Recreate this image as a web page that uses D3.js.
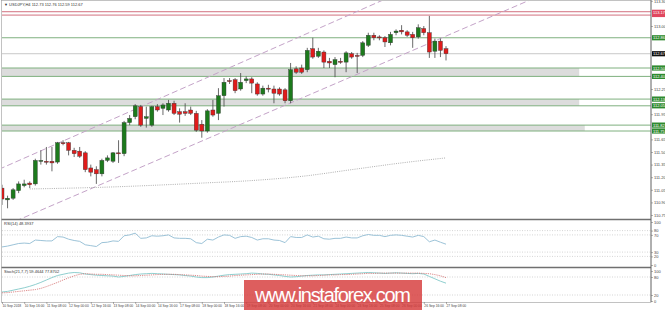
<!DOCTYPE html>
<html>
<head>
<meta charset="utf-8">
<script src="https://cdn.jsdelivr.net/npm/d3@7"></script>
<style>
  body { margin: 0; background: #fff; }
  svg { display: block; font-family: "Liberation Sans", Arial, sans-serif; }
</style>
</head>
<body>
<svg id="chart" width="665" height="310"></svg>
<script>
// USDJPY H4 candles, 10 Sep 2018 00:00 .. 27 Sep 2018 08:00
const opens = [111.07,110.93,110.95,111.04,111.10,111.13,111.12,111.39,111.39,111.39,
  111.38,111.61,111.61,111.52,111.51,111.49,111.31,111.29,111.24,111.40,
  111.39,111.49,111.48,111.85,111.92,112.04,111.90,111.82,112.04,112.02,
  112.00,112.08,111.98,111.98,112.00,111.96,111.83,111.75,112.00,111.96,
  112.17,112.35,112.36,112.25,112.35,112.37,112.31,112.19,112.26,112.25,
  112.25,112.24,112.11,112.49,112.50,112.48,112.73,112.64,112.69,112.58,
  112.54,112.58,112.57,112.67,112.65,112.65,112.77,112.89,112.87,112.86,
  112.80,112.92,112.95,112.93,112.90,112.87,112.97,112.92,112.70,112.82,112.73];
const highs = [111.11,110.98,111.07,111.15,111.17,111.15,111.42,111.52,111.56,111.56,
  111.62,111.64,111.62,111.55,111.56,111.51,111.35,111.33,111.42,111.46,
  111.50,111.64,111.87,111.94,112.07,112.06,112.04,112.05,112.07,112.08,
  112.12,112.11,112.02,112.08,112.04,111.99,111.88,112.01,112.12,112.26,
  112.38,112.38,112.38,112.44,112.40,112.39,112.33,112.29,112.30,112.29,
  112.27,112.26,112.56,112.52,112.54,112.74,112.86,112.74,112.71,112.62,
  112.63,112.62,112.70,112.69,112.68,112.82,112.92,112.92,112.89,112.88,
  112.93,112.96,113.01,112.95,112.93,113.02,113.00,113.12,112.85,112.85,112.76];
const lows = [110.87,110.83,110.93,111.01,111.08,111.07,111.10,111.35,111.35,111.27,
  111.36,111.58,111.46,111.44,111.43,111.26,111.21,111.12,111.21,111.38,
  111.37,111.37,111.45,111.82,111.89,111.80,111.79,111.80,111.98,111.94,
  111.98,111.94,111.85,111.93,111.94,111.74,111.67,111.73,111.92,111.88,
  112.04,112.31,112.20,112.23,112.32,112.20,112.17,112.17,112.21,112.08,
  112.17,112.08,112.08,112.43,112.43,112.45,112.61,112.62,112.50,112.50,
  112.39,112.55,112.45,112.61,112.44,112.63,112.75,112.83,112.83,112.75,
  112.77,112.89,112.90,112.87,112.74,112.85,112.89,112.62,112.62,112.63,112.59];
const closes = [110.94,110.95,111.05,111.12,111.12,111.11,111.40,111.40,111.38,111.37,
  111.61,111.60,111.52,111.48,111.45,111.29,111.26,111.24,111.40,111.43,
  111.49,111.48,111.85,111.90,112.05,111.82,111.92,112.04,112.00,112.06,
  112.08,111.96,111.95,111.96,111.96,111.76,111.75,111.99,111.94,112.17,
  112.33,112.34,112.23,112.33,112.37,112.32,112.19,112.26,112.25,112.20,
  112.19,112.11,112.48,112.45,112.45,112.71,112.63,112.70,112.57,112.56,
  112.60,112.57,112.68,112.63,112.64,112.80,112.89,112.86,112.86,112.81,
  112.90,112.94,112.93,112.89,112.86,112.98,112.92,112.69,112.82,112.71,112.67];

// indicators, one value per candle
const rsiValues = [42,44,47,50,51,50,58,57,56,56,
  66,65,60,57,55,47,45,43,52,53,
  56,55,68,70,74,62,63,68,67,68,
  70,63,62,62,61,52,50,60,58,65,
  70,69,62,66,67,64,58,61,61,58,
  57,52,66,64,64,70,65,67,61,60,
  62,62,65,63,63,68,71,69,69,66,
  69,70,69,67,65,69,66,54,58,53,48.39];
const stochMain = [30,32,36,40,44,49,55,62,70,78,
  85,89,93,95,94,90,88,86,85,84,
  83,80,82,85,88,90,91,92,91,90,
  89,88,87,85,83,80,78,78,80,83,
  86,88,89,90,91,93,92,90,89,87,
  85,82,80,81,83,85,86,87,87,88,
  89,90,91,92,93,94,95,94,93,92,
  93,94,93,92,91,92,90,82,74,66,59.47];
const stochSignal = [27,28,30,32,34,36,38,42,48,55,
  62,70,77,84,89,91,90,89,89,88,
  87,86,85,84,84,85,86,87,88,89,
  89,89,88,87,86,85,83,82,81,81,
  82,83,85,86,87,88,89,90,90,89,
  88,87,86,85,84,84,84,85,86,87,
  87,88,88,89,90,91,92,92,93,93,
  93,93,93,93,93,93,92,91,88,84,77.87];

// slow moving average (dotted), read at a few bars
const maBars = [5, 18, 36, 45, 54, 63, 72, 80];
const maValues = [111.06, 111.08, 111.13, 111.16, 111.21, 111.29, 111.37, 111.43];

// drawn objects: channel lines [bar, price]
const upperChannel = [[0, 111.31], [68, 113.29]];
const lowerChannel = [[5, 110.75], [80, 112.88]];
const redLevels = [113.17, 113.13];
const greenLevels = [112.86];
const zones = [[112.50, 112.40], [112.13, 112.05], [111.82, 111.75]];
const zoneEnds = [104, 104, 105];
const lastPrice = 112.67;

const priceTicks = [110.75,110.90,111.05,111.20,111.35,111.50,111.65,111.80,111.95,
  112.10,112.25,112.40,112.55,112.70,112.85,113.00,113.15,113.30];
const dateLabels = ['10 Sep 2018','10 Sep 16:00','11 Sep 08:00','12 Sep 00:00','12 Sep 16:00',
  '13 Sep 08:00','14 Sep 00:00','14 Sep 16:00','17 Sep 08:00','18 Sep 00:00','18 Sep 16:00',
  '19 Sep 08:00','20 Sep 00:00','20 Sep 16:00','21 Sep 08:00','24 Sep 00:00','24 Sep 16:00',
  '25 Sep 08:00','26 Sep 00:00','26 Sep 16:00','27 Sep 08:00'];
const rsiLevels = [80, 70, 30, 20];
const rsiTicks = [100, 80, 70, 30, 20, 0];
const stochLevels = [80, 20];
const stochTicks = [100, 80, 20, 0];

const svg = d3.select('#chart');
const left = 2, right = 651;

const x = d3.scaleLinear().domain([0, 80]).range([2, 446]);
const y = d3.scaleLinear().domain([110.75, 113.30]).range([215, 0.8]);
const yRsi = d3.scaleLinear().domain([0, 100]).range([265, 222]);
const yStoch = d3.scaleLinear().domain([0, 100]).range([301, 271]);

svg.append('defs').append('clipPath').attr('id', 'mainClip')
  .append('rect').attr('x', left).attr('y', 1).attr('width', right - left).attr('height', 218);

const main = svg.append('g').attr('clip-path', 'url(#mainClip)');

// support/resistance zones
zones.forEach((z, k) => {
  main.append('rect')
    .attr('x', left).attr('y', y(z[0]))
    .attr('width', x(zoneEnds[k]) - left).attr('height', y(z[1]) - y(z[0]))
    .attr('fill', '#dcdcdc');
  z.forEach(p => {
    main.append('line').attr('x1', left).attr('x2', right)
      .attr('y1', y(p)).attr('y2', y(p))
      .attr('stroke', '#7fb07f').attr('stroke-width', 1);
  });
});
greenLevels.forEach(p => {
  main.append('line').attr('x1', left).attr('x2', right)
    .attr('y1', y(p)).attr('y2', y(p)).attr('stroke', '#7fb07f');
});
redLevels.forEach(p => {
  main.append('line').attr('x1', left).attr('x2', right)
    .attr('y1', y(p)).attr('y2', y(p)).attr('stroke', '#d2707e');
});
// bid line
main.append('line').attr('x1', left).attr('x2', right)
  .attr('y1', y(lastPrice)).attr('y2', y(lastPrice)).attr('stroke', '#c8c8c8');

// channel lines, extended across the panel
function channel(pts) {
  const slope = (pts[1][1] - pts[0][1]) / (pts[1][0] - pts[0][0]);
  const a = -5, b = 130;
  main.append('line')
    .attr('x1', x(a)).attr('y1', y(pts[0][1] + slope * (a - pts[0][0])))
    .attr('x2', x(b)).attr('y2', y(pts[0][1] + slope * (b - pts[0][0])))
    .attr('stroke', '#c4a3c8').attr('stroke-width', 1)
    .attr('stroke-dasharray', '6,3');
}
channel(upperChannel);
channel(lowerChannel);

// moving average
main.append('path')
  .datum(maBars.map((b, k) => [b, maValues[k]]))
  .attr('fill', 'none').attr('stroke', '#9a9a9a').attr('stroke-width', 0.8)
  .attr('stroke-dasharray', '1,1.2')
  .attr('d', d3.line().x(d => x(d[0])).y(d => y(d[1])).curve(d3.curveMonotoneX));

// candles
const candles = main.selectAll('.candle')
  .data(opens.map((o, i) => ({ i, o, h: highs[i], l: lows[i], c: closes[i] })))
  .enter().append('g');

candles.append('line')
  .attr('x1', d => x(d.i)).attr('x2', d => x(d.i))
  .attr('y1', d => y(d.h)).attr('y2', d => y(d.l))
  .attr('stroke', '#444').attr('stroke-width', 0.8);

candles.append('rect')
  .attr('x', d => x(d.i) - 2)
  .attr('width', 4)
  .attr('y', d => y(Math.max(d.o, d.c)))
  .attr('height', d => Math.max(1, Math.abs(y(d.o) - y(d.c))))
  .attr('fill', d => d.c >= d.o ? '#1c7a1c' : '#e01b1b')
  .attr('stroke', '#333').attr('stroke-width', 0.4);

// indicator panels
const rsiG = svg.append('g');
rsiLevels.forEach(v => {
  rsiG.append('line').attr('x1', left).attr('x2', right)
    .attr('y1', yRsi(v)).attr('y2', yRsi(v))
    .attr('stroke', '#b8b8b8').attr('stroke-width', 0.6).attr('stroke-dasharray', '1,1.5');
});
rsiG.append('path').datum(rsiValues)
  .attr('fill', 'none').attr('stroke', '#9cc3d8').attr('stroke-width', 1)
  .attr('d', d3.line().x((d, i) => x(i)).y(d => yRsi(d)));

const stG = svg.append('g');
stochLevels.forEach(v => {
  stG.append('line').attr('x1', left).attr('x2', right)
    .attr('y1', yStoch(v)).attr('y2', yStoch(v))
    .attr('stroke', '#b8b8b8').attr('stroke-width', 0.6).attr('stroke-dasharray', '1,1.5');
});
stG.append('path').datum(stochMain)
  .attr('fill', 'none').attr('stroke', '#8fcfcf').attr('stroke-width', 1)
  .attr('d', d3.line().x((d, i) => x(i)).y(d => yStoch(d)));
stG.append('path').datum(stochSignal)
  .attr('fill', 'none').attr('stroke', '#d36a6a').attr('stroke-width', 0.8)
  .attr('stroke-dasharray', '1.2,1')
  .attr('d', d3.line().x((d, i) => x(i)).y(d => yStoch(d)));

// frames
svg.append('rect').attr('x', 1.5).attr('y', 0.5).attr('width', right - 1.5).attr('height', 302)
  .attr('fill', 'none').attr('stroke', '#9a9a9a').attr('stroke-width', 0.6);
[219.5, 267.5].forEach(v => {
  svg.append('line').attr('x1', 1.5).attr('x2', right).attr('y1', v).attr('y2', v)
    .attr('stroke', '#707070').attr('stroke-width', 1.4);
});

// right axes
function rightAxis(scale, ticks, fmt) {
  const g = svg.append('g').attr('transform', `translate(${right},0)`)
    .call(d3.axisRight(scale).tickValues(ticks).tickSize(2).tickPadding(1).tickFormat(fmt));
  g.select('.domain').remove();
  g.selectAll('line').attr('stroke', '#666').attr('stroke-width', 0.5);
  g.selectAll('text').attr('font-size', 4).attr('fill', '#444')
    .attr('font-family', '"Liberation Sans", Arial, sans-serif');
}
// price ticks hidden where a level tag sits on top of them
const tagPrices = zones.flat().concat(greenLevels, redLevels, [lastPrice]);
const freeTicks = priceTicks.filter(p => tagPrices.every(t => Math.abs(y(t) - y(p)) > 4.5));
rightAxis(y, freeTicks, d3.format('.2f'));
rightAxis(yRsi, rsiTicks, d3.format('d'));
rightAxis(yStoch, stochTicks, d3.format('d'));
svg.append('line').attr('x1', right).attr('x2', right).attr('y1', 0).attr('y2', 302)
  .attr('stroke', '#666').attr('stroke-width', 0.8);

// price labels for levels
function tag(p, color) {
  svg.append('rect').attr('x', right + 1).attr('y', y(p) - 2.6)
    .attr('width', 13).attr('height', 5.2).attr('fill', color);
  svg.append('text').attr('x', right + 2).attr('y', y(p) + 1.5)
    .attr('font-size', 4).attr('fill', '#fff').text(p.toFixed(2));
}
zones.forEach(z => z.forEach(p => tag(p, '#2f8a2f')));
greenLevels.forEach(p => tag(p, '#2f8a2f'));
svg.append('rect').attr('x', right + 1).attr('y', y(redLevels[0]) - 2)
  .attr('width', 13).attr('height', y(redLevels[1]) - y(redLevels[0]) + 4).attr('fill', '#e0475f');
svg.append('text').attr('x', right + 2).attr('y', y(redLevels[0]) + 2)
  .attr('font-size', 4).attr('fill', '#fff').text(redLevels[0].toFixed(2));
tag(lastPrice, '#111');

// date axis
const dateAxis = svg.append('g').attr('transform', 'translate(0,302)')
  .call(d3.axisBottom(x).tickValues(dateLabels.map((d, k) => k * 4)).tickSize(2).tickPadding(1)
    .tickFormat((d, k) => dateLabels[k]));
dateAxis.select('.domain').remove();
dateAxis.selectAll('line').attr('stroke', '#666').attr('stroke-width', 0.5);
dateAxis.selectAll('text').attr('font-size', 3.3).attr('fill', '#444').attr('text-anchor', 'start')
  .attr('font-family', '"Liberation Sans", Arial, sans-serif');

// titles
svg.append('text').attr('x', 4).attr('y', 5.5).attr('font-size', 4).attr('fill', '#333')
  .text('\u25BC USDJPY,H4  112.73 112.76 112.59 112.67');
svg.append('text').attr('x', 4).attr('y', 224.5).attr('font-size', 4).attr('fill', '#333')
  .text('RSI(14) 48.3937');
svg.append('text').attr('x', 4).attr('y', 272.5).attr('font-size', 4).attr('fill', '#333')
  .text('Stoch(21,7,7) 59.4644 77.8702');

// watermark
svg.append('rect').attr('x', 244).attr('y', 280).attr('width', 178).attr('height', 30)
  .attr('fill', '#d63a3a').attr('opacity', 0.82);
svg.append('text').attr('x', 333).attr('y', 301.5).attr('text-anchor', 'middle')
  .attr('font-size', 20).attr('fill', '#fff').attr('textLength', 156)
  .attr('font-family', '"Liberation Sans", Arial, sans-serif')
  .text('www.instaforex.com');
</script>
</body>
</html>
